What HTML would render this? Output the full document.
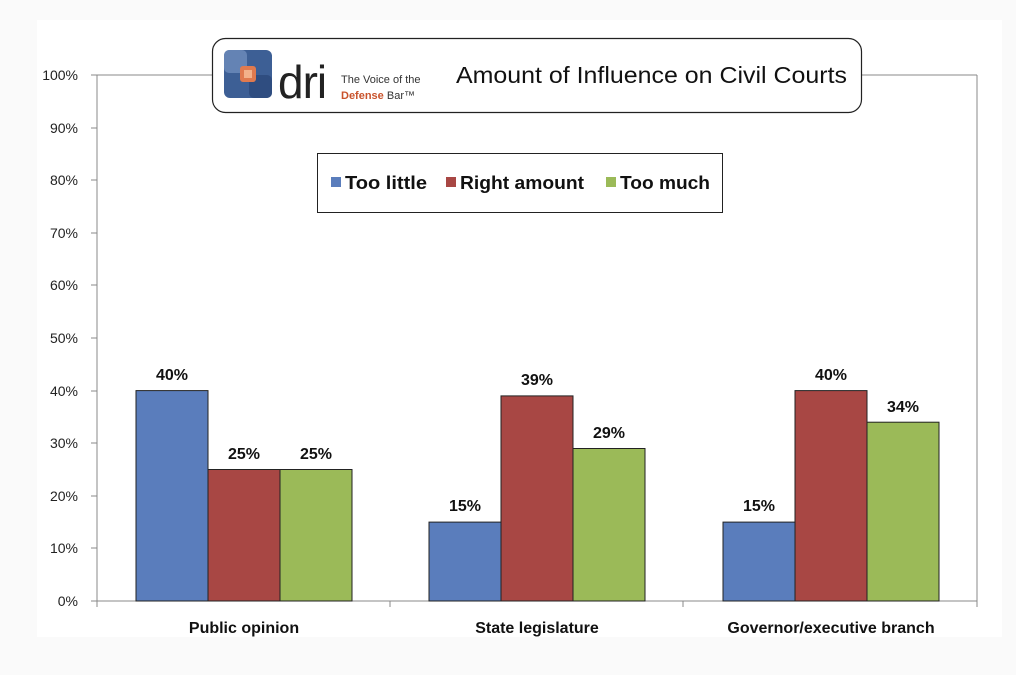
<!DOCTYPE html>
<html><head><meta charset="utf-8"><style>
html,body{margin:0;padding:0;background:#fafafa;}
svg{display:block;font-family:"Liberation Sans",sans-serif;}
</style></head><body>
<svg width="1016" height="675" viewBox="0 0 1016 675" xmlns="http://www.w3.org/2000/svg">
<rect x="0" y="0" width="1016" height="675" fill="#fafafa"/>
<rect x="37" y="20" width="965" height="617" fill="#fff"/>
<line x1="97" y1="75" x2="977" y2="75" stroke="#888" stroke-width="1"/>
<line x1="977" y1="75" x2="977" y2="601" stroke="#888" stroke-width="1"/>
<line x1="97" y1="75" x2="97" y2="607" stroke="#888" stroke-width="1"/>
<line x1="91" y1="601" x2="977" y2="601" stroke="#888" stroke-width="1"/>
<g stroke="#888">
<line x1="91" y1="75" x2="97" y2="75"/><line x1="91" y1="128" x2="97" y2="128"/>
<line x1="91" y1="180" x2="97" y2="180"/><line x1="91" y1="233" x2="97" y2="233"/>
<line x1="91" y1="285" x2="97" y2="285"/><line x1="91" y1="338" x2="97" y2="338"/>
<line x1="91" y1="391" x2="97" y2="391"/><line x1="91" y1="443" x2="97" y2="443"/>
<line x1="91" y1="496" x2="97" y2="496"/><line x1="91" y1="548" x2="97" y2="548"/>
<line x1="390" y1="601" x2="390" y2="607"/><line x1="683" y1="601" x2="683" y2="607"/><line x1="977" y1="601" x2="977" y2="607"/>
</g>
<g font-size="14" fill="#222" text-anchor="end">
<text x="78" y="80">100%</text><text x="78" y="133">90%</text><text x="78" y="185">80%</text>
<text x="78" y="238">70%</text><text x="78" y="290">60%</text><text x="78" y="343">50%</text>
<text x="78" y="396">40%</text><text x="78" y="448">30%</text><text x="78" y="501">20%</text>
<text x="78" y="553">10%</text><text x="78" y="606">0%</text>
</g>
<g stroke="#222" stroke-width="1">
<rect x="136" y="390.6" width="72" height="210.4" fill="#5a7dbc"/>
<rect x="208" y="469.5" width="72" height="131.5" fill="#a84744"/>
<rect x="280" y="469.5" width="72" height="131.5" fill="#9bba58"/>
<rect x="429" y="522.1" width="72" height="78.9" fill="#5a7dbc"/>
<rect x="501" y="395.9" width="72" height="205.1" fill="#a84744"/>
<rect x="573" y="448.5" width="72" height="152.5" fill="#9bba58"/>
<rect x="723" y="522.1" width="72" height="78.9" fill="#5a7dbc"/>
<rect x="795" y="390.6" width="72" height="210.4" fill="#a84744"/>
<rect x="867" y="422.2" width="72" height="178.8" fill="#9bba58"/>
</g>
<g font-size="16" font-weight="bold" fill="#111" text-anchor="middle">
<text x="172" y="380">40%</text><text x="244" y="459">25%</text><text x="316" y="459">25%</text>
<text x="465" y="511">15%</text><text x="537" y="385">39%</text><text x="609" y="438">29%</text>
<text x="759" y="511">15%</text><text x="831" y="380">40%</text><text x="903" y="412">34%</text>
</g>
<g font-size="16" font-weight="bold" fill="#111" text-anchor="middle">
<text x="244" y="633">Public opinion</text>
<text x="537" y="633">State legislature</text>
<text x="831" y="633">Governor/executive branch</text>
</g>
<rect x="317.5" y="153.5" width="405" height="59" fill="#fff" stroke="#222"/>
<rect x="331" y="177" width="10" height="10" fill="#5a7dbc"/>
<text x="345" y="189" font-size="18" font-weight="bold" fill="#111" textLength="82" lengthAdjust="spacingAndGlyphs">Too little</text>
<rect x="446" y="177" width="10" height="10" fill="#a84744"/>
<text x="460" y="189" font-size="18" font-weight="bold" fill="#111" textLength="124" lengthAdjust="spacingAndGlyphs">Right amount</text>
<rect x="606" y="177" width="10" height="10" fill="#9bba58"/>
<text x="620" y="189" font-size="18" font-weight="bold" fill="#111" textLength="90" lengthAdjust="spacingAndGlyphs">Too much</text>
<rect x="212.5" y="38.5" width="649" height="74" rx="13" fill="#fff" stroke="#222" stroke-width="1.2"/>
<rect x="224" y="50" width="48" height="48" rx="6" fill="#3d5f95"/>
<rect x="224" y="50" width="23" height="23" rx="5" fill="#6483b4"/>
<rect x="249" y="75" width="23" height="23" rx="5" fill="#2f4d80"/>
<rect x="240" y="66" width="16" height="16" rx="3" fill="#e07a4f"/>
<rect x="244" y="70" width="8" height="8" fill="#f3b18a"/>
<text x="278" y="98" font-size="46" fill="#222" letter-spacing="-1">dri</text>
<text x="341" y="83" font-size="11" fill="#333">The Voice of the</text>
<text x="341" y="99" font-size="11" fill="#c9532c" font-weight="bold">Defense <tspan fill="#333" font-weight="normal">Bar™</tspan></text>
<text x="456" y="83" font-size="23" fill="#111" textLength="391" lengthAdjust="spacingAndGlyphs">Amount of Influence on Civil Courts</text>
</svg>
</body></html>
